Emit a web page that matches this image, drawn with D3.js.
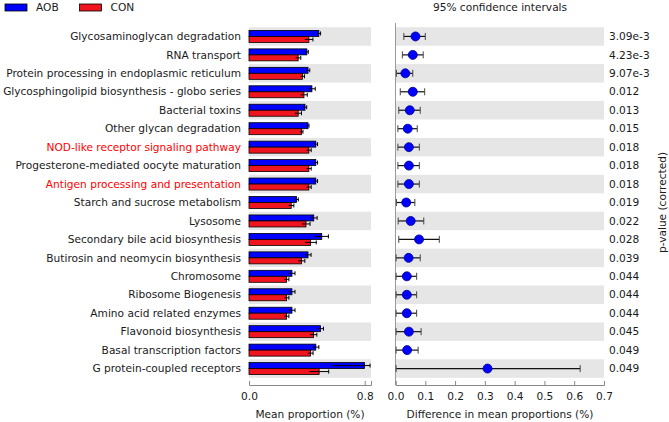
<!DOCTYPE html>
<html>
<head>
<meta charset="utf-8">
<script src="https://cdn.jsdelivr.net/npm/d3@7"></script>
<style>
  html, body { margin: 0; padding: 0; background: #fff; }
  svg { display: block; font-family: "DejaVu Sans", sans-serif; }
</style>
</head>
<body>
<svg id="chart" width="669" height="422"></svg>
<script>
// ---------------- data ----------------
const categories = [
  "Glycosaminoglycan degradation",
  "RNA transport",
  "Protein processing in endoplasmic reticulum",
  "Glycosphingolipid biosynthesis - globo series",
  "Bacterial toxins",
  "Other glycan degradation",
  "NOD-like receptor signaling pathway",
  "Progesterone-mediated oocyte maturation",
  "Antigen processing and presentation",
  "Starch and sucrose metabolism",
  "Lysosome",
  "Secondary bile acid biosynthesis",
  "Butirosin and neomycin biosynthesis",
  "Chromosome",
  "Ribosome Biogenesis",
  "Amino acid related enzymes",
  "Flavonoid biosynthesis",
  "Basal transcription factors",
  "G protein-coupled receptors"
];
const highlighted = ["NOD-like receptor signaling pathway", "Antigen processing and presentation"];
const seriesNames = ["AOB", "CON"];

// mean proportions (%)
const aobMean = [0.483, 0.400, 0.408, 0.435, 0.387, 0.408, 0.462, 0.462, 0.462, 0.329,
                 0.448, 0.503, 0.408, 0.297, 0.297, 0.297, 0.494, 0.462, 0.798];
const conMean = [0.414, 0.340, 0.370, 0.380, 0.340, 0.363, 0.414, 0.414, 0.414, 0.292,
                 0.394, 0.426, 0.363, 0.260, 0.260, 0.260, 0.446, 0.425, 0.485];
// error extents [minus, plus]
const aobErr = [[0.012,0.012],[0.010,0.010],[0.012,0.012],[0.023,0.023],[0.012,0.012],[0.007,0.007],
                [0.012,0.012],[0.012,0.012],[0.012,0.012],[0.012,0.012],[0.023,0.023],[0.046,0.046],
                [0.021,0.021],[0.021,0.021],[0.021,0.021],[0.021,0.021],[0.021,0.021],[0.021,0.021],
                [0.220,0.039]];
const conErr = [[0.028,0.028],[0.018,0.018],[0.014,0.014],[0.023,0.023],[0.023,0.023],[0.010,0.010],
                [0.016,0.016],[0.016,0.016],[0.016,0.016],[0.018,0.018],[0.028,0.028],[0.039,0.039],
                [0.023,0.023],[0.016,0.016],[0.016,0.016],[0.016,0.016],[0.023,0.023],[0.018,0.018],
                [0.066,0.066]];

// difference in mean proportions with 95% CI
const diffMean = [0.067, 0.058, 0.033, 0.058, 0.048, 0.041, 0.045, 0.045, 0.045, 0.036,
                  0.051, 0.079, 0.044, 0.038, 0.038, 0.038, 0.045, 0.039, 0.309];
const ciLow    = [0.028, 0.023, 0.003, 0.016, 0.011, 0.008, 0.008, 0.008, 0.008, 0.003,
                  0.009, 0.011, 0.002, 0.002, 0.002, 0.002, 0.002, 0.002, 0.002];
const ciHigh   = [0.100, 0.093, 0.058, 0.098, 0.083, 0.073, 0.080, 0.080, 0.080, 0.065,
                  0.095, 0.147, 0.083, 0.071, 0.071, 0.071, 0.086, 0.076, 0.620];
const pValues  = ["3.09e-3", "4.23e-3", "9.07e-3", "0.012", "0.013", "0.015", "0.018", "0.018", "0.018",
                  "0.019", "0.022", "0.028", "0.039", "0.044", "0.044", "0.044", "0.045", "0.049", "0.049"];

const leftTicks = [0.0, 0.8];
const rightTicks = [0.0, 0.1, 0.2, 0.3, 0.4, 0.5, 0.6, 0.7];

// ---------------- drawing ----------------
const BLUE = "#0000ff", RED = "#f0141e", BAND = "#e6e6e6", TXT = "#1a1a1a";
const FS = 10.6;
const svg = d3.select("#chart");

const y = d3.scaleBand().domain(categories).range([27.2, 377.8]).padding(0);
const xL = d3.scaleLinear().domain([0, 0.8435]).range([249, 371]);
const xR = d3.scaleLinear().domain([0, 0.7]).range([395.5, 604]);

const rows = categories.map((c, i) => ({
  cat: c, i, aob: aobMean[i], con: conMean[i], aobE: aobErr[i], conE: conErr[i],
  d: diffMean[i], lo: ciLow[i], hi: ciHigh[i], p: pValues[i]
}));

// background bands (even rows shaded)
const shaded = rows.filter(r => r.i % 2 === 0);
svg.append("g").selectAll("rect").data(shaded).join("rect")
  .attr("x", xL.range()[0]).attr("width", xL.range()[1] - xL.range()[0])
  .attr("y", r => y(r.cat)).attr("height", y.bandwidth()).attr("fill", BAND);
svg.append("g").selectAll("rect").data(shaded).join("rect")
  .attr("x", xR.range()[0]).attr("width", xR.range()[1] - xR.range()[0])
  .attr("y", r => y(r.cat)).attr("height", y.bandwidth()).attr("fill", BAND);

// category labels
svg.append("g").selectAll("text").data(rows).join("text")
  .attr("x", 241).attr("y", r => y(r.cat) + y.bandwidth() / 2)
  .attr("dy", "0.35em").attr("text-anchor", "end")
  .attr("font-size", FS)
  .attr("fill", r => highlighted.includes(r.cat) ? "#ff0000" : TXT)
  .text(r => r.cat);

// bars
const barH = 6;
const gBars = svg.append("g");
const barTop = y.bandwidth() / 2 - barH;
gBars.selectAll("rect.aob").data(rows).join("rect").attr("class", "aob")
  .attr("x", xL(0)).attr("y", r => y(r.cat) + barTop)
  .attr("width", r => xL(r.aob) - xL(0)).attr("height", barH)
  .attr("fill", BLUE).attr("stroke", "#000").attr("stroke-width", 0.8);
gBars.selectAll("rect.con").data(rows).join("rect").attr("class", "con")
  .attr("x", xL(0)).attr("y", r => y(r.cat) + barTop + barH)
  .attr("width", r => xL(r.con) - xL(0)).attr("height", barH)
  .attr("fill", RED).attr("stroke", "#000").attr("stroke-width", 0.8);

// error bars on bars
function errBars(key, ekey, yoff) {
  const g = svg.append("g").attr("stroke", "#000").attr("stroke-width", 1);
  g.selectAll("line.h").data(rows).join("line").attr("class", "h")
    .attr("x1", r => xL(r[key] - r[ekey][0])).attr("x2", r => xL(r[key] + r[ekey][1]))
    .attr("y1", r => y(r.cat) + yoff).attr("y2", r => y(r.cat) + yoff);
  g.selectAll("line.c").data(rows).join("line").attr("class", "c")
    .attr("x1", r => xL(r[key] + r[ekey][1])).attr("x2", r => xL(r[key] + r[ekey][1]))
    .attr("y1", r => y(r.cat) + yoff - 2).attr("y2", r => y(r.cat) + yoff + 2);
}
errBars("aob", "aobE", y.bandwidth() / 2 - barH / 2);
errBars("con", "conE", y.bandwidth() / 2 + barH / 2);

// right panel spine at zero
svg.append("line").attr("x1", xR(0)).attr("x2", xR(0)).attr("y1", 23).attr("y2", 385)
  .attr("stroke", "#999").attr("stroke-width", 1);

// CI lines
const gCI = svg.append("g");
gCI.selectAll("line.ci").data(rows).join("line").attr("class", "ci")
  .attr("x1", r => xR(r.lo)).attr("x2", r => xR(r.hi))
  .attr("y1", r => y(r.cat) + y.bandwidth() / 2).attr("y2", r => y(r.cat) + y.bandwidth() / 2)
  .attr("stroke", "#111").attr("stroke-width", 1.2);
["lo", "hi"].forEach(k => {
  gCI.selectAll("line.cap" + k).data(rows).join("line").attr("class", "cap" + k)
    .attr("x1", r => xR(r[k])).attr("x2", r => xR(r[k]))
    .attr("y1", r => y(r.cat) + y.bandwidth() / 2 - 3.5).attr("y2", r => y(r.cat) + y.bandwidth() / 2 + 3.5)
    .attr("stroke", "#444").attr("stroke-width", 1);
});
gCI.selectAll("circle").data(rows).join("circle")
  .attr("cx", r => xR(r.d)).attr("cy", r => y(r.cat) + y.bandwidth() / 2)
  .attr("r", 4.5).attr("fill", BLUE).attr("stroke", "#00008a").attr("stroke-width", 0.8);

// p-values
svg.append("g").selectAll("text").data(rows).join("text")
  .attr("x", 609).attr("y", r => y(r.cat) + y.bandwidth() / 2).attr("dy", "0.35em")
  .attr("font-size", FS).attr("fill", TXT).text(r => r.p);

svg.append("text")
  .attr("transform", `translate(662,${(y.range()[0] + y.range()[1]) / 2}) rotate(-90)`)
  .attr("text-anchor", "middle").attr("dy", "0.35em")
  .attr("font-size", FS).attr("fill", TXT).text("p-value (corrected)");

// axes
function styleAxis(g) {
  g.select(".domain").attr("stroke", "#888");
  g.selectAll(".tick line").attr("stroke", "#888");
  g.selectAll(".tick text").attr("fill", TXT).attr("font-size", FS)
    .attr("font-family", "DejaVu Sans, sans-serif");
}
const axisY = 385;
svg.append("g").attr("transform", `translate(0,${axisY})`)
  .call(d3.axisBottom(xL).tickValues(leftTicks).tickFormat(d3.format(".1f"))
    .tickSizeInner(-4).tickSizeOuter(-4).tickPadding(7))
  .call(styleAxis);
svg.append("g").attr("transform", `translate(0,${axisY})`)
  .call(d3.axisBottom(xR).tickValues(rightTicks).tickFormat(d3.format(".1f"))
    .tickSizeInner(-4).tickSizeOuter(-4).tickPadding(7))
  .call(styleAxis);

svg.append("text").attr("x", 310).attr("y", 414).attr("dy", "0.35em")
  .attr("text-anchor", "middle").attr("font-size", FS).attr("fill", TXT)
  .text("Mean proportion (%)");
svg.append("text").attr("x", 500).attr("y", 414).attr("dy", "0.35em")
  .attr("text-anchor", "middle").attr("font-size", FS).attr("fill", TXT)
  .text("Difference in mean proportions (%)");

// title
svg.append("text").attr("x", 500).attr("y", 7).attr("dy", "0.35em")
  .attr("text-anchor", "middle").attr("font-size", FS).attr("fill", TXT)
  .text("95% confidence intervals");

// legend
const legendColors = [BLUE, RED];
const lg = svg.append("g").selectAll("g").data(seriesNames).join("g")
  .attr("transform", (d, i) => `translate(${5 + i * 74.5},0)`);
lg.append("rect").attr("x", 0).attr("y", 4).attr("width", 22).attr("height", 7)
  .attr("fill", (d, i) => legendColors[i]).attr("stroke", "#000").attr("stroke-width", 0.8);
lg.append("text").attr("x", 31).attr("y", 7.5).attr("dy", "0.35em")
  .attr("font-size", FS).attr("fill", TXT).text(d => d);
</script>
</body>
</html>
